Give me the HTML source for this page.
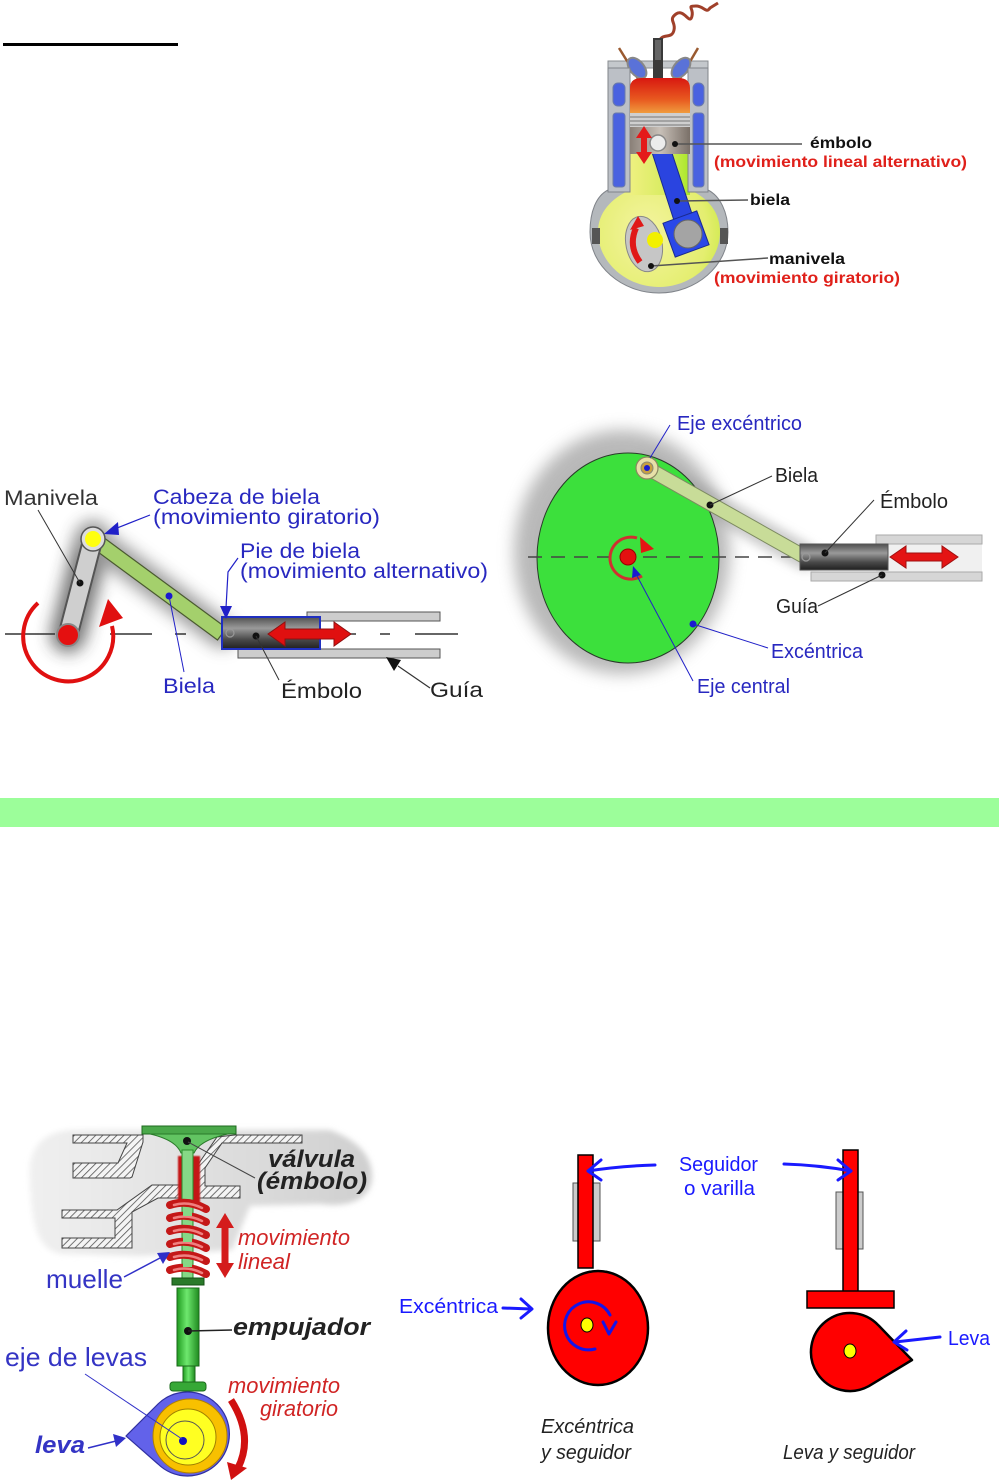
<!DOCTYPE html>
<html><head><meta charset="utf-8">
<style>
html,body{margin:0;padding:0;background:#fff;}
svg{display:block;}
text{font-family:"Liberation Sans",sans-serif;}
</style></head>
<body>
<svg width="999" height="1480" viewBox="0 0 999 1480" xmlns="http://www.w3.org/2000/svg">
<defs>
  <filter id="blur8" x="-50%" y="-50%" width="200%" height="200%"><feGaussianBlur stdDeviation="8"/></filter>
  <filter id="blur5" x="-50%" y="-50%" width="200%" height="200%"><feGaussianBlur stdDeviation="5"/></filter>
  <filter id="blur3" x="-50%" y="-50%" width="200%" height="200%"><feGaussianBlur stdDeviation="3"/></filter>
  <filter id="blur1" x="-20%" y="-20%" width="140%" height="140%"><feGaussianBlur stdDeviation="0.8"/></filter>
  <pattern id="hatch" width="5" height="5" patternUnits="userSpaceOnUse" patternTransform="rotate(45)">
    <rect width="5" height="5" fill="#f4f4f4"/>
    <line x1="0" y1="0" x2="0" y2="5" stroke="#555" stroke-width="1.6"/>
  </pattern>
  <linearGradient id="chamber" x1="0" y1="0" x2="0" y2="1">
    <stop offset="0" stop-color="#d81810"/><stop offset="0.6" stop-color="#e85a20"/><stop offset="1" stop-color="#f0a040"/>
  </linearGradient>
  <linearGradient id="pistonE" x1="0" y1="0" x2="1" y2="0">
    <stop offset="0" stop-color="#8a8078"/><stop offset="0.5" stop-color="#c8c0b8"/><stop offset="1" stop-color="#7a7068"/>
  </linearGradient>
  <linearGradient id="bore" x1="0" y1="0" x2="1" y2="0">
    <stop offset="0" stop-color="#eef080"/><stop offset="0.6" stop-color="#d8ec60"/><stop offset="1" stop-color="#a8e828"/>
  </linearGradient>
  <radialGradient id="crankcase" cx="0.4" cy="0.6" r="0.7">
    <stop offset="0" stop-color="#f4f4a0"/><stop offset="0.7" stop-color="#e4ee70"/><stop offset="1" stop-color="#c8e840"/>
  </radialGradient>
  <linearGradient id="pistonDark" x1="0" y1="0" x2="0" y2="1">
    <stop offset="0" stop-color="#505050"/><stop offset="0.35" stop-color="#9a9a9a"/><stop offset="0.7" stop-color="#4a4a4a"/><stop offset="1" stop-color="#202020"/>
  </linearGradient>
  <linearGradient id="pushrod" x1="0" y1="0" x2="1" y2="0">
    <stop offset="0" stop-color="#1f9a1f"/><stop offset="0.45" stop-color="#6ee86e"/><stop offset="1" stop-color="#1f8a1f"/>
  </linearGradient>
  <linearGradient id="blob" x1="0" y1="0" x2="1" y2="0">
    <stop offset="0" stop-color="#f0f0f0"/><stop offset="0.5" stop-color="#e0e0e0"/><stop offset="1" stop-color="#cfcfcf"/>
  </linearGradient>
</defs>

<!-- top underline -->
<rect x="3" y="43" width="175" height="3" fill="#000"/>

<!-- ================= ENGINE ================= -->
<g>
  <path d="M659 42 C 662 32 672 40 674 30 C 676 22 668 20 676 14 C 684 8 690 26 692 16 C 694 8 686 6 696 6 C 704 6 706 14 710 8 L 718 3" stroke="#a0402a" stroke-width="3" fill="none"/>
  <rect x="608" y="61" width="100" height="7" fill="#c4c8cc" stroke="#8a8e92" stroke-width="1"/>
  <line x1="619" y1="48" x2="640" y2="82" stroke="#9a5a30" stroke-width="2.5"/>
  <line x1="698" y1="48" x2="678" y2="82" stroke="#9a5a30" stroke-width="2.5"/>
  <ellipse cx="637" cy="68" rx="7" ry="12" transform="rotate(-40 637 68)" fill="#5a72d8" stroke="#888" stroke-width="2"/>
  <ellipse cx="681" cy="68" rx="7" ry="12" transform="rotate(40 681 68)" fill="#5a72d8" stroke="#888" stroke-width="2"/>
  <rect x="653" y="38" width="10" height="44" fill="#3a3a3a"/>
  <rect x="655" y="40" width="6" height="20" fill="#666"/>
  <path d="M608 170 L608 190 C 596 196 590 212 590 232 C 590 266 622 293 659 293 C 696 293 728 266 728 232 C 728 212 720 196 708 190 L708 170 Z" fill="#b4b8bc" stroke="#80848a" stroke-width="1"/>
  <path d="M630 150 L630 190 C 612 198 598 212 598 232 C 598 262 626 287 659 287 C 692 287 720 262 720 232 C 720 212 708 198 690 190 L690 150 Z" fill="url(#crankcase)"/>
  <rect x="630" y="150" width="60" height="45" fill="url(#bore)"/>
  <rect x="608" y="68" width="22" height="124" fill="#bcc0c6" stroke="#80848a" stroke-width="1"/>
  <rect x="688" y="68" width="20" height="124" fill="#bcc0c6" stroke="#80848a" stroke-width="1"/>
  <rect x="613" y="83" width="12" height="23" rx="5" fill="#4a62e0" stroke="#6a7aaa"/>
  <rect x="613" y="113" width="12" height="74" rx="3" fill="#4a62e0" stroke="#6a7aaa"/>
  <rect x="693" y="83" width="11" height="23" rx="5" fill="#4a62e0" stroke="#6a7aaa"/>
  <rect x="693" y="113" width="11" height="74" rx="3" fill="#4a62e0" stroke="#6a7aaa"/>
  <path d="M630 114 L630 88 Q630 78 642 78 L678 78 Q690 78 690 88 L690 114 Z" fill="url(#chamber)"/>
  <!-- crank web -->
  <ellipse cx="644" cy="244" rx="18" ry="28" transform="rotate(-12 644 244)" fill="#c6c6c6" stroke="#888" stroke-width="1"/>
  <circle cx="655" cy="240" r="8" fill="#f2f000"/>
  <path d="M640 262 Q628 246 636 228" stroke="#e01818" stroke-width="6" fill="none"/>
  <polygon points="630,230 644,226 638,216" fill="#e01818"/>
  <!-- connecting rod (under piston) -->
  <polygon points="648,140 666,135 696,226 678,233" fill="#2a44e0" stroke="#1a2a90" stroke-width="1"/>
  <rect x="668" y="216" width="36" height="36" transform="rotate(-20 686 234)" fill="#2a48e8" stroke="#1a2a90" stroke-width="1"/>
  <circle cx="688" cy="234" r="14" fill="#a4a4a4" stroke="#666"/>
  <!-- piston -->
  <rect x="630" y="113" width="60" height="15" fill="#cfcfcf"/>
  <line x1="630" y1="117" x2="690" y2="117" stroke="#777" stroke-width="1"/>
  <line x1="630" y1="121" x2="690" y2="121" stroke="#777" stroke-width="1"/>
  <line x1="630" y1="125" x2="690" y2="125" stroke="#777" stroke-width="1"/>
  <rect x="630" y="127" width="60" height="27" fill="url(#pistonE)"/>
  <circle cx="658" cy="143" r="8" fill="#ececec" stroke="#888" stroke-width="1.5"/>
  <polygon points="644,126 652,138 647,138 647,152 652,152 644,164 636,152 641,152 641,138 636,138" fill="#e41a1a"/>
  <rect x="592" y="228" width="8" height="16" fill="#555"/>
  <rect x="720" y="228" width="8" height="16" fill="#555"/>
  <line x1="675" y1="144" x2="802" y2="144" stroke="#555" stroke-width="1.5"/>
  <line x1="677" y1="201" x2="748" y2="200" stroke="#555" stroke-width="1.5"/>
  <line x1="651" y1="266" x2="768" y2="258" stroke="#555" stroke-width="1.5"/>
  <circle cx="675" cy="144" r="3" fill="#111"/>
  <circle cx="677" cy="201" r="3" fill="#111"/>
  <circle cx="651" cy="266" r="3" fill="#111"/>
  <text x="810" y="148" font-size="16" font-weight="bold" fill="#111" textLength="62" lengthAdjust="spacingAndGlyphs">émbolo</text>
  <text x="714" y="167" font-size="16" font-weight="bold" fill="#e0201a" textLength="253" lengthAdjust="spacingAndGlyphs">(movimiento lineal alternativo)</text>
  <text x="750" y="205" font-size="16" font-weight="bold" fill="#111" textLength="40" lengthAdjust="spacingAndGlyphs">biela</text>
  <text x="769" y="264" font-size="16" font-weight="bold" fill="#111" textLength="76" lengthAdjust="spacingAndGlyphs">manivela</text>
  <text x="714" y="283" font-size="16" font-weight="bold" fill="#e0201a" textLength="186" lengthAdjust="spacingAndGlyphs">(movimiento giratorio)</text>
</g>

<!-- ================= MIDDLE LEFT ================= -->
<g>
  <g filter="url(#blur8)" opacity="0.65">
    <line x1="68" y1="635" x2="93" y2="539" stroke="#333" stroke-width="36" stroke-linecap="round"/>
    <line x1="93" y1="539" x2="222" y2="634" stroke="#666" stroke-width="28" stroke-linecap="round"/>
  </g>
  <g stroke="#333" stroke-width="1.5">
    <line x1="5" y1="634" x2="55" y2="634"/>
    <line x1="110" y1="634" x2="152" y2="634"/>
    <line x1="175" y1="634" x2="186" y2="634"/>
    <line x1="210" y1="634" x2="222" y2="634"/>
    <line x1="350" y1="634" x2="356" y2="634"/>
    <line x1="380" y1="634" x2="390" y2="634"/>
    <line x1="415" y1="634" x2="458" y2="634"/>
  </g>
  <path d="M38 603 A 45 45 0 1 0 112 626" stroke="#e01010" stroke-width="4" fill="none"/>
  <polygon points="99,627 123,618 108,599" fill="#e01010"/>
  <polygon points="97.5,533 226.5,628 217.5,640 88.5,545" fill="#a4d06c" stroke="#4a5a30" stroke-width="1.2"/>
  <line x1="68" y1="635" x2="93" y2="539" stroke="#555" stroke-width="21" stroke-linecap="round"/>
  <line x1="68" y1="635" x2="93" y2="539" stroke="#cfcfcf" stroke-width="17" stroke-linecap="round"/>
  <circle cx="68" cy="635" r="11" fill="#e41010" stroke="#888" stroke-width="2"/>
  <circle cx="93" cy="539" r="12" fill="#ddd" stroke="#555" stroke-width="1.5"/>
  <circle cx="93" cy="539" r="8" fill="#ffff10"/>
  <circle cx="80" cy="583" r="3.5" fill="#111"/>
  <circle cx="169" cy="596" r="3.5" fill="#1a1ad0"/>
  <rect x="307" y="612" width="133" height="9" fill="#cdcdcd" stroke="#555" stroke-width="1"/>
  <rect x="238" y="649" width="202" height="9" fill="#cdcdcd" stroke="#555" stroke-width="1"/>
  <rect x="222" y="617" width="98" height="32" fill="url(#pistonDark)" stroke="#2030c0" stroke-width="2"/>
  <circle cx="230" cy="633" r="4" fill="none" stroke="#999" stroke-width="1.2"/>
  <circle cx="256" cy="636" r="3.5" fill="#111"/>
  <polygon points="268,634 285,622 285,629 334,629 334,622 351,634 334,646 334,639 285,639 285,646" fill="#e01010" stroke="#901010" stroke-width="1"/>
  <line x1="80" y1="583" x2="38" y2="510" stroke="#333" stroke-width="1"/>
  <line x1="150" y1="515" x2="112" y2="530" stroke="#2020c8" stroke-width="1.2"/>
  <polygon points="104,534 118,522 119,535" fill="#2020c8"/>
  <polyline points="238,558 228,572 226,608" fill="none" stroke="#2020c8" stroke-width="1.2"/>
  <polygon points="220,606 232,606 226,619" fill="#2020c8"/>
  <line x1="169" y1="596" x2="184" y2="672" stroke="#2020c8" stroke-width="1"/>
  <line x1="256" y1="636" x2="279" y2="680" stroke="#333" stroke-width="1"/>
  <line x1="430" y1="688" x2="398" y2="666" stroke="#333" stroke-width="1.2"/>
  <polygon points="386,657 401,660 394,671" fill="#111"/>
  <text x="4" y="505" font-size="21" fill="#333" textLength="94" lengthAdjust="spacingAndGlyphs">Manivela</text>
  <text x="153" y="504" font-size="21" fill="#2828c0" textLength="167" lengthAdjust="spacingAndGlyphs">Cabeza de biela</text>
  <text x="153" y="524" font-size="21" fill="#2828c0" textLength="227" lengthAdjust="spacingAndGlyphs">(movimiento giratorio)</text>
  <text x="240" y="558" font-size="21" fill="#2828c0" textLength="120" lengthAdjust="spacingAndGlyphs">Pie de biela</text>
  <text x="240" y="578" font-size="21" fill="#2828c0" textLength="248" lengthAdjust="spacingAndGlyphs">(movimiento alternativo)</text>
  <text x="163" y="693" font-size="21" fill="#2828c0" textLength="52" lengthAdjust="spacingAndGlyphs">Biela</text>
  <text x="281" y="698" font-size="21" fill="#222" textLength="81" lengthAdjust="spacingAndGlyphs">Émbolo</text>
  <text x="430" y="697" font-size="21" fill="#222" textLength="53" lengthAdjust="spacingAndGlyphs">Guía</text>
</g>

<!-- ================= MIDDLE RIGHT ================= -->
<g>
  <ellipse cx="622" cy="552" rx="108" ry="122" fill="#8a8a8a" filter="url(#blur8)" opacity="0.6"/>
  <line x1="647" y1="468" x2="805" y2="557" stroke="#999" stroke-width="26" stroke-linecap="round" filter="url(#blur5)" opacity="0.5"/>
  <ellipse cx="628" cy="558" rx="91" ry="105" fill="#3ce03c" stroke="#2a3a2a" stroke-width="1"/>
  <line x1="528" y1="557" x2="985" y2="557" stroke="#444" stroke-width="1.5" stroke-dasharray="14 9"/>
  <rect x="876" y="544" width="106" height="28" fill="#f0f0f0"/>
  <rect x="876" y="535" width="106" height="9" fill="#d6d6d6" stroke="#aaa" stroke-width="1"/>
  <rect x="811" y="572" width="171" height="9" fill="#d6d6d6" stroke="#aaa" stroke-width="1"/>
  <polygon points="650.4,461.9 808.4,550.9 801.6,563.1 643.6,474.1" fill="#c8dc98" stroke="#7c8a60" stroke-width="1"/>
  <circle cx="647" cy="468" r="11" fill="#e8e0a8" stroke="#8a8860" stroke-width="1.2"/>
  <circle cx="647" cy="468" r="6" fill="#c8a040" stroke="#887"/>
  <circle cx="647" cy="468" r="3" fill="#1a1ad0"/>
  <rect x="800" y="544" width="88" height="26" fill="url(#pistonDark)" stroke="#555" stroke-width="1"/>
  <circle cx="806" cy="557" r="4" fill="none" stroke="#999" stroke-width="1.2"/>
  <polygon points="890,557 906,546 906,553 942,553 942,546 958,557 942,568 942,561 906,561 906,568" fill="#e41414" stroke="#a01010" stroke-width="1"/>
  <path d="M642 576 A 21 21 0 1 1 637 538" stroke="#d03030" stroke-width="3" fill="none"/>
  <polygon points="640,537 654,549 641,553" fill="#e41414"/>
  <circle cx="628" cy="557" r="8" fill="#e41010" stroke="#900" stroke-width="1"/>
  <polygon points="633,566 641,575 632,578" fill="#1a1ad0"/>
  <circle cx="710" cy="505" r="3.5" fill="#111"/>
  <circle cx="825" cy="553" r="3.5" fill="#111"/>
  <circle cx="882" cy="575" r="3.5" fill="#111"/>
  <circle cx="693" cy="624" r="3.5" fill="#1a1ad0"/>
  <line x1="650" y1="458" x2="670" y2="425" stroke="#2020c8" stroke-width="1"/>
  <line x1="710" y1="505" x2="772" y2="476" stroke="#333" stroke-width="1"/>
  <line x1="825" y1="553" x2="874" y2="500" stroke="#333" stroke-width="1"/>
  <line x1="882" y1="575" x2="818" y2="606" stroke="#333" stroke-width="1"/>
  <line x1="693" y1="624" x2="768" y2="648" stroke="#2020c8" stroke-width="1"/>
  <line x1="636" y1="574" x2="693" y2="681" stroke="#2020c8" stroke-width="1"/>
  <text x="677" y="430" font-size="20" fill="#2828c0" textLength="125" lengthAdjust="spacingAndGlyphs">Eje excéntrico</text>
  <text x="775" y="482" font-size="20" fill="#222" textLength="43" lengthAdjust="spacingAndGlyphs">Biela</text>
  <text x="880" y="508" font-size="20" fill="#222" textLength="68" lengthAdjust="spacingAndGlyphs">Émbolo</text>
  <text x="776" y="613" font-size="20" fill="#222" textLength="42" lengthAdjust="spacingAndGlyphs">Guía</text>
  <text x="771" y="658" font-size="20" fill="#2828c0" textLength="92" lengthAdjust="spacingAndGlyphs">Excéntrica</text>
  <text x="697" y="693" font-size="20" fill="#2828c0" textLength="93" lengthAdjust="spacingAndGlyphs">Eje central</text>
</g>

<rect x="0" y="798" width="999" height="29" fill="#9cfe9a"/>

<!-- ================= VALVE DIAGRAM ================= -->
<g>
  <path d="M30 1185 C 26 1150 40 1132 72 1130 L 330 1130 C 352 1138 372 1152 372 1176 C 372 1200 348 1208 320 1204 L 250 1206 L 232 1250 L 140 1256 L 62 1254 C 36 1250 32 1222 30 1185 Z" fill="url(#blob)" filter="url(#blur3)"/>
  <polygon points="73,1135 143,1135 143,1142 132,1177 130,1178 73,1178 73,1163 118,1163 127,1143 73,1143" fill="url(#hatch)" stroke="#444" stroke-width="1"/>
  <polygon points="235,1135 302,1135 302,1143 222,1143 205,1168 205,1186 240,1186 240,1198 197,1198 197,1166 217,1137" fill="url(#hatch)" stroke="#444" stroke-width="1"/>
  <polygon points="152,1185 182,1185 182,1198 158,1198 132,1212 132,1248 62,1248 62,1238 115,1238 115,1218 62,1218 62,1210 117,1210" fill="url(#hatch)" stroke="#444" stroke-width="1"/>
  <rect x="178" y="1156" width="22" height="48" fill="#c41818" filter="url(#blur1)"/>
  <rect x="142" y="1126" width="94" height="8" fill="#4aa84a" stroke="#1e6a1e" stroke-width="1"/>
  <path d="M150 1134 L228 1134 Q 200 1140 194 1153 L181 1153 Q 176 1140 150 1134 Z" fill="#62c462" stroke="#2a7a2a" stroke-width="1"/>
  <rect x="182" y="1150" width="11" height="134" fill="#86d886" stroke="#2a8a2a" stroke-width="1"/>
  <circle cx="187" cy="1141" r="4" fill="#111"/>
  <g stroke-linecap="round" fill="none">
    <path d="M170 1205 Q188 1199 206 1209" stroke="#c41818" stroke-width="8"/>
    <path d="M170 1218 Q188 1212 206 1222" stroke="#c41818" stroke-width="8"/>
    <path d="M170 1231 Q188 1225 206 1235" stroke="#c41818" stroke-width="8"/>
    <path d="M170 1244 Q188 1238 206 1248" stroke="#c41818" stroke-width="8"/>
    <path d="M170 1257 Q188 1251 206 1261" stroke="#c41818" stroke-width="8"/>
    <path d="M170 1270 Q188 1264 206 1274" stroke="#c41818" stroke-width="8"/>
    <path d="M174 1205 Q188 1201 202 1208" stroke="#f08080" stroke-width="2.5"/>
    <path d="M174 1218 Q188 1214 202 1221" stroke="#f08080" stroke-width="2.5"/>
    <path d="M174 1231 Q188 1227 202 1234" stroke="#f08080" stroke-width="2.5"/>
    <path d="M174 1244 Q188 1240 202 1247" stroke="#f08080" stroke-width="2.5"/>
    <path d="M174 1257 Q188 1253 202 1260" stroke="#f08080" stroke-width="2.5"/>
    <path d="M174 1270 Q188 1266 202 1273" stroke="#f08080" stroke-width="2.5"/>
  </g>
  <rect x="183" y="1210" width="9" height="6" fill="#86d886"/>
  <rect x="183" y="1236" width="9" height="6" fill="#86d886"/>
  <rect x="183" y="1262" width="9" height="5" fill="#86d886"/>
  <rect x="172" y="1278" width="32" height="7" fill="#2a7a2a" stroke="#145014" stroke-width="1"/>
  <rect x="177" y="1288" width="22" height="78" fill="url(#pushrod)" stroke="#1a6a1a" stroke-width="1"/>
  <rect x="183" y="1366" width="12" height="17" fill="url(#pushrod)" stroke="#1a6a1a" stroke-width="1"/>
  <rect x="170" y="1382" width="36" height="9" rx="3" fill="#36a836" stroke="#1a6a1a" stroke-width="1"/>
  <circle cx="188" cy="1331" r="4" fill="#111"/>
  <path d="M126 1436 L158 1404 A 42 42 0 1 1 158 1464 Z" fill="#6262ea" stroke="#3030a0" stroke-width="1.2" stroke-linejoin="round"/>
  <circle cx="190" cy="1436" r="37" fill="#f8c000" stroke="#b08000" stroke-width="1"/>
  <circle cx="188" cy="1437" r="28" fill="#ffff22" stroke="#a08000" stroke-width="1"/>
  <circle cx="185" cy="1440" r="19" fill="none" stroke="#555" stroke-width="1"/>
  <circle cx="183" cy="1441" r="4" fill="#1010c0"/>
  <path d="M231 1400 Q254 1436 238 1468" stroke="#d01010" stroke-width="7" fill="none"/>
  <polygon points="227,1462 247,1468 231,1480" fill="#d01010"/>
  <polygon points="225,1213 234,1228 228.5,1228 228.5,1263 234,1263 225,1278 216,1263 221.5,1263 221.5,1228 216,1228" fill="#d41c1c"/>
  <line x1="188" y1="1142" x2="255" y2="1178" stroke="#444" stroke-width="1"/>
  <line x1="124" y1="1277" x2="160" y2="1258" stroke="#3030c8" stroke-width="1.5"/>
  <polygon points="170,1252 157,1253 163,1264" fill="#3030c8"/>
  <line x1="188" y1="1331" x2="232" y2="1330" stroke="#222" stroke-width="1.5"/>
  <line x1="85" y1="1374" x2="182" y2="1439" stroke="#3030c8" stroke-width="1"/>
  <line x1="88" y1="1448" x2="116" y2="1441" stroke="#3030c8" stroke-width="1.5"/>
  <polygon points="126,1438 113,1434 116,1447" fill="#3030c8"/>
  <text x="268" y="1167" font-size="24" font-weight="bold" font-style="italic" fill="#222" textLength="87" lengthAdjust="spacingAndGlyphs">válvula</text>
  <text x="257" y="1189" font-size="24" font-weight="bold" font-style="italic" fill="#222" textLength="110" lengthAdjust="spacingAndGlyphs">(émbolo)</text>
  <text x="238" y="1245" font-size="22" font-style="italic" fill="#d02424" textLength="112" lengthAdjust="spacingAndGlyphs">movimiento</text>
  <text x="238" y="1269" font-size="22" font-style="italic" fill="#d02424" textLength="52" lengthAdjust="spacingAndGlyphs">lineal</text>
  <text x="46" y="1288" font-size="26" fill="#3434c4" textLength="77" lengthAdjust="spacingAndGlyphs">muelle</text>
  <text x="233" y="1335" font-size="24" font-weight="bold" font-style="italic" fill="#222" textLength="137" lengthAdjust="spacingAndGlyphs">empujador</text>
  <text x="5" y="1366" font-size="26" fill="#3434c4" textLength="142" lengthAdjust="spacingAndGlyphs">eje de levas</text>
  <text x="228" y="1393" font-size="22" font-style="italic" fill="#d02424" textLength="112" lengthAdjust="spacingAndGlyphs">movimiento</text>
  <text x="260" y="1416" font-size="22" font-style="italic" fill="#d02424" textLength="78" lengthAdjust="spacingAndGlyphs">giratorio</text>
  <text x="35" y="1453" font-size="24" font-weight="bold" font-style="italic" fill="#3434c4" textLength="50" lengthAdjust="spacingAndGlyphs">leva</text>
</g>

<!-- ================= BOTTOM RIGHT ================= -->
<g>
  <rect x="573" y="1183" width="27" height="58" fill="#cccccc" stroke="#555" stroke-width="1"/>
  <rect x="578" y="1155" width="15" height="113" fill="#ff0000" stroke="#000" stroke-width="1.5"/>
  <ellipse cx="598" cy="1328" rx="50" ry="57" fill="#ff0000" stroke="#000" stroke-width="2.5"/>
  <ellipse cx="587" cy="1325" rx="6" ry="7" fill="#ffff00" stroke="#000" stroke-width="1"/>
  <path d="M595 1349 A 24 24 0 1 1 610 1315" stroke="#1414e8" stroke-width="3" fill="none" stroke-linecap="round"/>
  <polyline points="603,1322 609,1334 616,1322" stroke="#1414e8" stroke-width="3" fill="none" stroke-linecap="round" stroke-linejoin="round"/>
  <rect x="836" y="1192" width="27" height="57" fill="#cccccc" stroke="#555" stroke-width="1"/>
  <rect x="843" y="1150" width="15" height="143" fill="#ff0000" stroke="#000" stroke-width="1.5"/>
  <rect x="807" y="1291" width="87" height="17" fill="#ff0000" stroke="#000" stroke-width="1.5"/>
  <path d="M878.4 1325.3 L912 1360 L868.7 1386.2 A 39 39 0 1 1 878.4 1325.3 Z" fill="#ff0000" stroke="#000" stroke-width="2.5" stroke-linejoin="round"/>
  <ellipse cx="850" cy="1351" rx="6" ry="7" fill="#ffff00" stroke="#000" stroke-width="1"/>
  <g stroke="#1a1aff" stroke-width="3" fill="none" stroke-linecap="round" stroke-linejoin="round">
    <path d="M655 1165 Q620 1166 588 1171"/>
    <polyline points="601,1160 588,1171 601,1180"/>
    <path d="M784 1164 Q818 1165 851 1171"/>
    <polyline points="838,1160 851,1171 838,1180"/>
    <path d="M503 1308 L531 1309"/>
    <polyline points="521,1299 532,1309 521,1318"/>
    <path d="M940 1337 L895 1342"/>
    <polyline points="906,1331 894,1342 907,1350"/>
  </g>
  <text x="679" y="1171" font-size="20" fill="#1a1aff" textLength="79" lengthAdjust="spacingAndGlyphs">Seguidor</text>
  <text x="684" y="1195" font-size="20" fill="#1a1aff" textLength="71" lengthAdjust="spacingAndGlyphs">o varilla</text>
  <text x="399" y="1313" font-size="20" fill="#1a1aff" textLength="99" lengthAdjust="spacingAndGlyphs">Excéntrica</text>
  <text x="948" y="1345" font-size="20" fill="#1a1aff" textLength="42" lengthAdjust="spacingAndGlyphs">Leva</text>
  <text x="541" y="1433" font-size="20" font-style="italic" fill="#222" textLength="93" lengthAdjust="spacingAndGlyphs">Excéntrica</text>
  <text x="541" y="1459" font-size="20" font-style="italic" fill="#222" textLength="90" lengthAdjust="spacingAndGlyphs">y seguidor</text>
  <text x="783" y="1459" font-size="20" font-style="italic" fill="#222" textLength="132" lengthAdjust="spacingAndGlyphs">Leva y seguidor</text>
</g>
</svg>
</body></html>
